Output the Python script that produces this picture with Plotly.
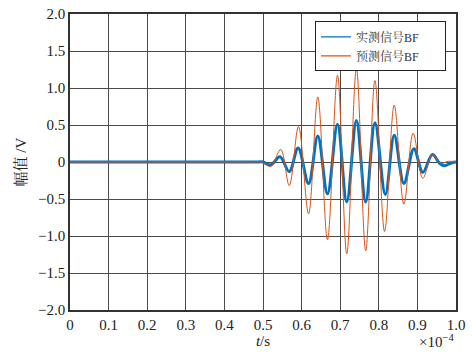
import plotly.graph_objects as go

# time in units of 1e-4 s
t_meas = [0, 0.1, 0.2, 0.3, 0.4, 0.48, 0.50, 0.52, 0.544, 0.568, 0.591, 0.618, 0.642, 0.667,
          0.693, 0.717, 0.742, 0.766, 0.790, 0.817, 0.840, 0.865, 0.891, 0.914, 0.939,
          0.958, 0.971, 0.989, 1.0]
v_meas = [0, 0, 0, 0, 0, 0, 0, -0.04, 0.07, -0.13, 0.19, -0.29, 0.35, -0.43,
          0.51, -0.54, 0.56, -0.54, 0.53, -0.44, 0.36, -0.29, 0.18, -0.14, 0.10,
          -0.02, -0.05, -0.01, 0]

t_pred = [0, 0.1, 0.2, 0.3, 0.4, 0.48, 0.495, 0.52, 0.546, 0.568, 0.592, 0.618, 0.642, 0.667,
          0.693, 0.717, 0.742, 0.766, 0.790, 0.815, 0.840, 0.865, 0.889, 0.914, 0.939,
          0.96, 0.98, 1.0]
v_pred = [0, 0, 0, 0, 0, 0, 0, -0.06, 0.17, -0.32, 0.48, -0.70, 0.88, -1.05,
          1.17, -1.24, 1.26, -1.20, 1.10, -0.94, 0.77, -0.57, 0.39, -0.22, 0.10,
          -0.02, 0.01, 0]

x_ticks = [0, 0.1, 0.2, 0.3, 0.4, 0.5, 0.6, 0.7, 0.8, 0.9, 1.0]
x_labels = ["0", "0.1", "0.2", "0.3", "0.4", "0.5", "0.6", "0.7", "0.8", "0.9", "1.0"]
y_ticks = [2.0, 1.5, 1.0, 0.5, 0, -0.5, -1.0, -1.5, -2.0]
y_labels = ["2.0", "1.5", "1.0", "0.5", "0", "\u22120.5", "\u22121.0", "\u22121.5", "\u22122.0"]

names = ["实测信号BF", "预测信号BF"]
colors = ["#0072BD", "#D95319"]

FONT = "Liberation Serif, Noto Serif CJK SC, Noto Sans CJK SC, serif"
PAD = "\u00a0" * 7

fig = go.Figure()
fig.add_trace(go.Scatter(x=t_meas, y=v_meas, mode="lines", name=names[0], showlegend=False,
                         line=dict(color=colors[0], width=3, shape="spline", smoothing=1.0)))
fig.add_trace(go.Scatter(x=t_pred, y=v_pred, mode="lines", name=names[1], showlegend=False,
                         line=dict(color=colors[1], width=1, shape="spline", smoothing=1.0)))
# legend entries with thin line samples
for nm, c in zip(names, colors):
    fig.add_trace(go.Scatter(x=[None], y=[None], mode="lines", name=nm + PAD,
                             line=dict(color=c, width=1.2)))

axis_common = dict(showgrid=True, gridcolor="#4a4a4a", gridwidth=1, showline=True,
                   linecolor="#333333", linewidth=1.5, mirror=True, zeroline=False,
                   ticks="", automargin=False,
                   tickfont=dict(family=FONT, size=15, color="#222"))

fig.update_xaxes(range=[0, 1.0], tickvals=x_ticks, ticktext=x_labels,
                 title=dict(text="<i>t</i>/s", font=dict(family=FONT, size=15, color="#222"), standoff=2),
                 **axis_common)
fig.update_yaxes(range=[-2.0, 2.0], tickvals=y_ticks, ticktext=y_labels,
                 title=dict(text="幅值 /V", font=dict(family=FONT, size=15, color="#222"), standoff=8),
                 **axis_common)

fig.add_annotation(text="\u00d710<sup>\u22124</sup>", xref="paper", yref="paper",
                   x=0.899, y=-0.105, xanchor="left", yanchor="middle", showarrow=False,
                   font=dict(family=FONT, size=15, color="#222"))

fig.update_layout(
    width=472, height=355,
    margin=dict(l=70, r=16, t=14, b=45),
    plot_bgcolor="white", paper_bgcolor="white",
    legend=dict(x=0.974, y=0.975, xanchor="right", yanchor="top",
                bordercolor="#222", borderwidth=1, bgcolor="white",
                font=dict(family=FONT, size=12, color="#333"),
                tracegroupgap=0),
    showlegend=True,
)

fig.write_html("out.html")
